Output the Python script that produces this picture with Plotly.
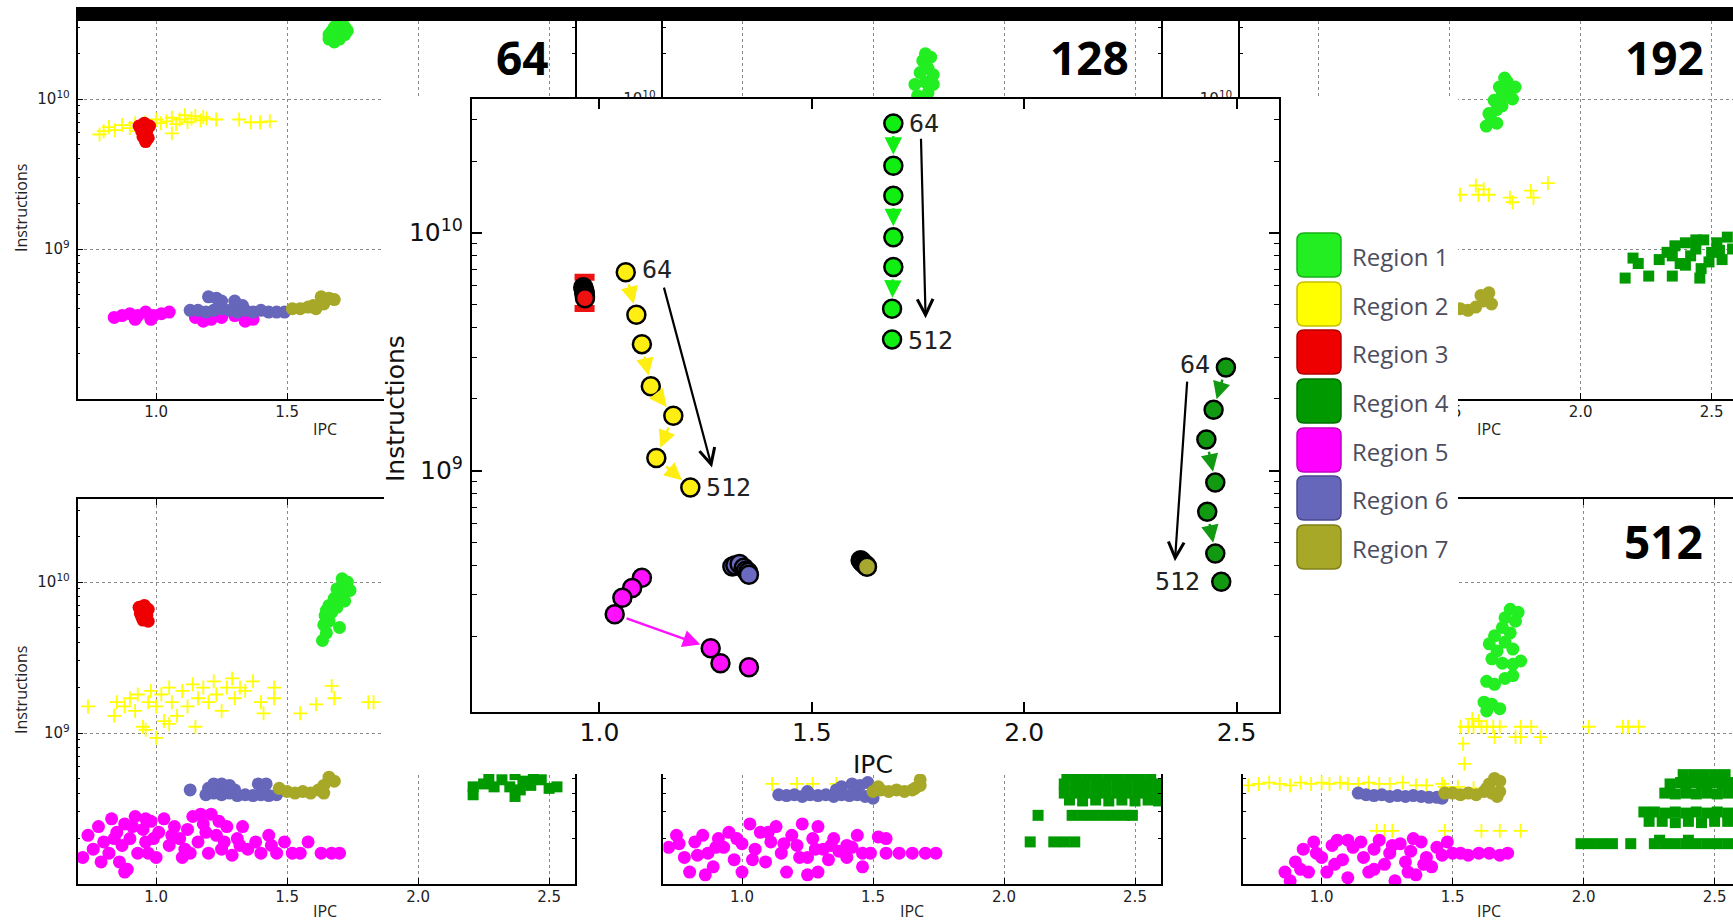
import numpy as np
import plotly.graph_objects as go

W, H = 1733, 922

# ---------------------------------------------------------------- main summary plot
# one point per window size (64 ... 512) for each region
r1_ipc = [1.692, 1.692, 1.692, 1.692, 1.692, 1.689, 1.689]
r1_ins = [2.88e10, 1.91e10, 1.43e10, 9.57e9, 7.18e9, 4.79e9, 3.56e9]
r2_ipc = [1.062, 1.087, 1.100, 1.121, 1.174, 1.134, 1.214]
r2_ins = [6.82e9, 4.52e9, 3.40e9, 2.26e9, 1.70e9, 1.13e9, 8.49e8]
r3_ipc = [0.962, 0.963, 0.964, 0.965, 0.965, 0.966, 0.966]
r3_ins = [5.9e9, 5.8e9, 5.7e9, 5.6e9, 5.5e9, 5.4e9, 5.3e9]
r3_bar_ipc = [0.965]
r3_bar_ins = [5.6e9]
r3_bar_up = [0.9e9]
r3_bar_down = [0.8e9]
r4_ipc = [2.475, 2.446, 2.429, 2.450, 2.431, 2.450, 2.464]
r4_ins = [2.71e9, 1.80e9, 1.35e9, 8.91e8, 6.71e8, 4.48e8, 3.41e8]
r5_ipc = [1.100, 1.077, 1.054, 1.036, 1.262, 1.285, 1.352]
r5_ins = [3.54e8, 3.21e8, 2.92e8, 2.49e8, 1.79e8, 1.55e8, 1.49e8]
r6_ipc = [1.313, 1.320, 1.330, 1.340, 1.345, 1.350, 1.352]
r6_ins = [3.95e8, 4.00e8, 4.05e8, 3.90e8, 3.80e8, 3.75e8, 3.65e8]
r7_ipc = [1.615, 1.618, 1.620, 1.624, 1.627, 1.629, 1.630]
r7_ins = [4.20e8, 4.15e8, 4.10e8, 4.05e8, 4.00e8, 3.97e8, 3.94e8]

# overall trend arrows (64 -> 512)
trend_from_ipc = [1.757, 1.151, 2.384]
trend_from_ins = [2.52e10, 5.96e9, 2.40e9]
trend_to_ipc = [1.768, 1.265, 2.355]
trend_to_ins = [4.37e9, 1.03e9, 4.16e8]

first_label, last_label = "64", "512"
region_names = ["Region 1", "Region 2", "Region 3", "Region 4", "Region 5", "Region 6", "Region 7"]
panel_titles = ["64", "128", "192", "512"]

x_ticks = [1.0, 1.5, 2.0, 2.5]
x_tick_text = ["1.0", "1.5", "2.0", "2.5"]
y_ticks = [1e9, 1e10]
y_tick_text = ["10<sup>9</sup>", "10<sup>10</sup>"]
y_minor = [2e8, 3e8, 4e8, 5e8, 6e8, 7e8, 8e8, 9e8, 2e9, 3e9, 4e9, 5e9, 6e9, 7e9, 8e9, 9e9, 2e10, 3e10]

# ---------------------------------------------------------------- per-window scatter panels
p64 = {
    1: [(1.66, 2.51e10), (1.68, 2.40e10), (1.70, 2.51e10), (1.72, 2.69e10), (1.67, 2.82e10), (1.70, 2.95e10),
        (1.72, 3.02e10), (1.69, 3.16e10), (1.71, 3.31e10), (1.66, 2.69e10), (1.68, 3.0e10), (1.73, 2.85e10)],
    2: [(0.784, 5.8e9), (0.80, 6.1e9), (0.82, 6.5e9), (0.842, 6.2e9), (0.87, 6.7e9), (0.90, 6.4e9), (0.92, 6.9e9),
        (0.93, 6.1e9), (0.959, 7.0e9), (0.98, 6.6e9), (1.0, 7.3e9), (1.018, 6.9e9), (1.04, 7.1e9), (1.06, 7.5e9),
        (1.076, 6.8e9), (1.09, 7.3e9), (1.11, 7.8e9), (1.12, 7.0e9), (1.135, 7.4e9), (1.15, 7.7e9), (1.17, 7.2e9),
        (1.18, 7.6e9), (1.193, 7.4e9), (1.229, 7.3e9), (1.317, 7.3e9), (1.361, 7.0e9), (1.397, 7.0e9),
        (1.434, 7.1e9), (1.06, 5.9e9), (0.96, 6.4e9)],
    3: [(0.935, 6.6e9), (0.955, 6.9e9), (0.975, 6.6e9), (0.945, 6.1e9), (0.965, 6.2e9), (0.95, 5.6e9),
        (0.97, 5.5e9), (0.96, 5.2e9)],
    5: [(0.84, 3.5e8), (0.87, 3.6e8), (0.90, 3.7e8), (0.93, 3.6e8), (0.96, 3.8e8), (0.99, 3.6e8), (1.02, 3.7e8),
        (1.05, 3.8e8), (0.92, 3.4e8), (0.98, 3.4e8), (1.15, 3.5e8), (1.18, 3.3e8), (1.21, 3.4e8), (1.25, 3.5e8),
        (1.30, 3.6e8), (1.34, 3.3e8), (1.37, 3.4e8)],
    6: [(1.13, 3.9e8), (1.16, 3.9e8), (1.19, 3.8e8), (1.22, 3.9e8), (1.25, 4.0e8), (1.28, 3.9e8), (1.31, 3.8e8),
        (1.34, 3.9e8), (1.37, 3.8e8), (1.40, 3.9e8), (1.43, 3.8e8), (1.46, 3.8e8), (1.49, 3.8e8), (1.20, 4.8e8),
        (1.23, 4.7e8), (1.25, 4.5e8), (1.30, 4.5e8), (1.33, 4.2e8)],
    7: [(1.52, 4.0e8), (1.55, 4.0e8), (1.58, 4.1e8), (1.61, 4.0e8), (1.64, 4.3e8), (1.66, 4.7e8), (1.68, 4.6e8),
        (1.63, 4.8e8), (1.60, 4.2e8)],
}
p128 = {
    1: [(1.67, 1.05e10), (1.69, 1.02e10), (1.71, 1.1e10), (1.66, 1.25e10), (1.70, 1.3e10), (1.73, 1.25e10),
        (1.68, 1.5e10), (1.71, 1.6e10), (1.69, 1.8e10), (1.72, 1.9e10), (1.70, 2.0e10), (1.73, 1.45e10)],
}
p192 = {
    1: [(1.64, 6.6e9), (1.66, 7.2e9), (1.68, 6.9e9), (1.65, 8.0e9), (1.68, 8.5e9), (1.70, 9.0e9), (1.67, 9.8e9),
        (1.70, 1.05e10), (1.73, 1.1e10), (1.69, 1.2e10), (1.72, 1.3e10), (1.75, 1.2e10), (1.71, 1.38e10),
        (1.74, 1.0e10)],
    2: [(1.54, 2.3e9), (1.60, 2.65e9), (1.61, 2.3e9), (1.63, 2.5e9), (1.65, 2.3e9), (1.73, 2.2e9), (1.74, 2.05e9),
        (1.81, 2.45e9), (1.82, 2.2e9), (1.875, 2.75e9)],
    4: [(2.30, 8.5e8), (2.33, 9.5e8), (2.36, 1.05e9), (2.38, 8.0e8), (2.40, 1.1e9), (2.42, 9.0e8), (2.44, 1.0e9),
        (2.46, 7.4e8), (2.47, 1.15e9), (2.50, 9.5e8), (2.52, 1.1e9), (2.54, 8.5e8), (2.56, 1.2e9), (2.58, 1.0e9),
        (2.40, 7.8e8), (2.35, 9.0e8), (2.49, 8.2e8), (2.20, 8.7e8), (2.22, 8.0e8), (2.17, 6.4e8), (2.26, 6.6e8),
        (2.35, 6.6e8), (2.455, 6.4e8), (2.53, 9.8e8), (2.44, 1.15e9)],
    7: [(1.54, 4.0e8), (1.57, 3.9e8), (1.60, 4.1e8), (1.63, 4.5e8), (1.65, 5.1e8), (1.62, 4.9e8), (1.66, 4.3e8)],
}
p_bl = {
    1: [(1.635, 4.1e9), (1.65, 4.6e9), (1.64, 5.2e9), (1.66, 5.5e9), (1.645, 6.0e9), (1.67, 6.3e9), (1.66, 7.0e9),
        (1.69, 6.8e9), (1.68, 7.8e9), (1.70, 8.2e9), (1.69, 9.0e9), (1.72, 9.3e9), (1.71, 1.05e10), (1.73, 1.0e10),
        (1.70, 5.0e9), (1.72, 7.5e9), (1.65, 6.5e9), (1.74, 8.8e9)],
    2: [(0.74, 1.5e9), (0.84, 1.3e9), (0.85, 1.6e9), (0.88, 1.5e9), (0.90, 1.7e9), (0.92, 1.4e9), (0.93, 1.8e9),
        (0.95, 1.1e9), (0.97, 1.6e9), (0.98, 1.9e9), (1.0, 0.93e9), (1.0, 1.5e9), (1.02, 1.8e9), (1.03, 1.2e9),
        (1.05, 2.0e9), (1.06, 1.6e9), (1.08, 1.3e9), (1.10, 1.9e9), (1.12, 1.5e9), (1.14, 2.1e9), (1.15, 1.1e9),
        (1.16, 1.7e9), (1.18, 2.0e9), (1.20, 1.6e9), (1.22, 2.2e9), (1.23, 1.8e9), (1.25, 1.4e9), (1.27, 2.0e9),
        (1.29, 2.3e9), (1.30, 1.7e9), (1.32, 2.0e9), (1.34, 1.9e9), (1.37, 2.2e9), (1.40, 1.6e9), (1.41, 1.35e9),
        (1.45, 2.0e9), (1.45, 1.7e9), (1.55, 1.35e9), (1.61, 1.55e9), (1.67, 2.05e9), (1.68, 1.7e9),
        (1.81, 1.6e9), (1.83, 1.6e9), (0.96, 1.05e9), (1.05, 1.15e9)],
    3: [(0.935, 6.8e9), (0.955, 7.0e9), (0.97, 6.6e9), (0.94, 6.2e9), (0.965, 6.0e9), (0.95, 5.6e9),
        (0.97, 5.5e9), (0.945, 5.9e9)],
    4: [(2.21, 3.9e8), (2.21, 4.4e8), (2.25, 4.6e8), (2.29, 4.4e8), (2.32, 4.9e8), (2.35, 4.4e8), (2.37, 3.8e8),
        (2.39, 4.2e8), (2.40, 4.8e8), (2.43, 4.5e8), (2.47, 4.9e8), (2.50, 4.3e8), (2.53, 4.4e8), (2.27, 5.1e8),
        (2.44, 5.2e8), (2.37, 5.3e8), (2.40, 6.0e8), (2.45, 8.0e8), (2.35, 1.0e9), (2.50, 7.0e8)],
    5: [(0.72, 1.5e8), (0.74, 2.1e8), (0.76, 1.7e8), (0.78, 2.4e8), (0.80, 1.9e8), (0.82, 1.6e8), (0.83, 2.7e8),
        (0.85, 2.2e8), (0.86, 1.4e8), (0.87, 1.8e8), (0.88, 2.5e8), (0.89, 1.25e8), (0.90, 2.0e8), (0.92, 2.8e8),
        (0.93, 1.6e8), (0.95, 2.3e8), (0.96, 1.9e8), (0.98, 2.6e8), (1.0, 1.5e8), (1.01, 2.2e8), (1.03, 2.7e8),
        (1.05, 1.8e8), (1.07, 2.4e8), (1.09, 2.0e8), (1.10, 1.5e8), (1.12, 2.3e8), (1.14, 2.8e8), (1.16, 1.9e8),
        (1.18, 2.5e8), (1.20, 1.6e8), (1.21, 2.9e8), (1.23, 2.1e8), (1.25, 1.7e8), (1.27, 2.4e8), (1.29, 1.55e8),
        (1.31, 2.0e8), (1.33, 2.4e8), (1.35, 1.7e8), (1.38, 1.9e8), (1.40, 1.6e8), (1.43, 2.1e8), (1.46, 1.6e8),
        (1.49, 1.9e8), (1.52, 1.6e8), (1.55, 1.6e8), (1.58, 1.9e8), (1.63, 1.6e8), (1.67, 1.6e8), (1.70, 1.6e8),
        (0.97, 1.6e8), (1.13, 1.6e8), (1.17, 2.9e8), (0.79, 1.4e8), (0.84, 2.0e8), (0.91, 2.4e8), (0.99, 2.0e8),
        (1.06, 2.1e8), (1.11, 1.7e8), (1.19, 2.2e8), (1.26, 1.9e8), (1.32, 1.8e8), (1.44, 1.8e8),
        (0.88, 1.2e8), (0.96, 2.7e8), (1.24, 2.6e8)],
    6: [(1.13, 4.2e8), (1.19, 3.9e8), (1.22, 4.0e8), (1.25, 3.9e8), (1.28, 4.0e8), (1.31, 3.85e8), (1.34, 3.9e8),
        (1.37, 3.85e8), (1.40, 3.9e8), (1.43, 3.85e8), (1.46, 3.9e8), (1.22, 4.6e8), (1.25, 4.6e8), (1.28, 4.5e8),
        (1.39, 4.6e8), (1.42, 4.6e8), (1.30, 4.2e8), (1.20, 4.3e8)],
    7: [(1.47, 4.3e8), (1.50, 4.1e8), (1.53, 4.0e8), (1.56, 4.1e8), (1.59, 4.0e8), (1.62, 4.2e8), (1.64, 4.5e8),
        (1.66, 4.9e8), (1.68, 4.8e8), (1.64, 4.0e8), (1.66, 5.1e8)],
}
p_bm = {
    2: [(1.115, 4.6e8), (1.21, 4.6e8), (1.27, 4.6e8), (1.36, 4.6e8)],
    4: [(2.24, 5.2e8), (2.28, 5.3e8), (2.32, 5.3e8), (2.36, 5.3e8), (2.40, 5.3e8), (2.44, 5.3e8), (2.48, 5.3e8),
        (2.52, 5.3e8), (2.56, 5.3e8), (2.23, 4.6e8), (2.27, 4.6e8), (2.31, 4.6e8), (2.35, 4.6e8), (2.39, 4.6e8),
        (2.43, 4.6e8), (2.47, 4.6e8), (2.51, 4.6e8), (2.55, 4.6e8), (2.59, 4.6e8), (2.23, 4.0e8), (2.27, 4.0e8),
        (2.31, 4.0e8), (2.35, 4.0e8), (2.39, 4.0e8), (2.43, 4.0e8), (2.47, 4.0e8), (2.51, 4.0e8), (2.55, 4.0e8),
        (2.59, 4.0e8), (2.25, 3.6e8), (2.30, 3.55e8), (2.35, 3.6e8), (2.40, 3.55e8), (2.45, 3.6e8), (2.50, 3.55e8),
        (2.55, 3.6e8), (2.59, 3.55e8), (2.13, 2.85e8), (2.26, 2.85e8), (2.30, 2.85e8), (2.34, 2.85e8),
        (2.38, 2.85e8), (2.42, 2.85e8), (2.46, 2.85e8), (2.49, 2.85e8), (2.10, 1.9e8), (2.19, 1.9e8),
        (2.23, 1.9e8), (2.27, 1.9e8)],
    5: [(0.72, 1.75e8), (0.75, 2.1e8), (0.78, 1.5e8), (0.80, 1.2e8), (0.82, 1.9e8), (0.85, 2.1e8), (0.87, 1.6e8),
        (0.89, 1.3e8), (0.91, 2.0e8), (0.93, 1.75e8), (0.95, 2.2e8), (0.97, 1.45e8), (1.0, 1.85e8), (1.0, 1.2e8),
        (1.03, 2.5e8), (1.05, 1.7e8), (1.07, 2.2e8), (1.09, 1.4e8), (1.11, 1.9e8), (1.13, 2.4e8), (1.15, 1.6e8),
        (1.17, 1.2e8), (1.19, 2.1e8), (1.21, 1.8e8), (1.23, 2.5e8), (1.25, 1.5e8), (1.27, 2.0e8), (1.29, 2.4e8),
        (1.31, 1.7e8), (1.33, 1.45e8), (1.35, 2.0e8), (1.37, 1.65e8), (1.40, 1.5e8), (1.42, 1.75e8),
        (1.44, 2.1e8), (1.46, 1.6e8), (1.46, 1.3e8), (1.49, 1.6e8), (1.52, 2.05e8), (1.55, 1.6e8), (1.60, 1.6e8),
        (1.65, 1.6e8), (1.70, 1.6e8), (1.74, 1.6e8), (1.55, 2.0e8), (1.29, 1.2e8), (1.25, 1.15e8),
        (0.86, 1.15e8), (0.76, 1.85e8), (0.83, 1.55e8), (0.90, 1.75e8), (0.98, 2.0e8), (1.04, 1.45e8),
        (1.10, 2.2e8), (1.16, 1.85e8), (1.22, 1.5e8), (1.28, 1.7e8), (1.34, 1.8e8), (1.40, 1.8e8)],
    6: [(1.14, 3.9e8), (1.17, 3.85e8), (1.20, 3.9e8), (1.23, 3.8e8), (1.26, 3.9e8), (1.29, 3.85e8), (1.32, 3.9e8),
        (1.35, 3.8e8), (1.38, 3.9e8), (1.41, 3.85e8), (1.44, 3.9e8), (1.47, 3.8e8), (1.50, 3.7e8), (1.38, 4.4e8),
        (1.42, 4.6e8), (1.45, 4.5e8), (1.48, 4.7e8), (1.36, 4.2e8), (1.25, 4.1e8)],
    7: [(1.50, 4.1e8), (1.53, 4.2e8), (1.56, 4.1e8), (1.59, 4.2e8), (1.62, 4.1e8), (1.65, 4.2e8), (1.68, 4.5e8),
        (1.68, 4.9e8), (1.66, 4.3e8), (1.52, 4.4e8)],
}
p512 = {
    1: [(1.72, 6.6e9), (1.75, 6.3e9), (1.70, 5.8e9), (1.74, 5.5e9), (1.69, 5.0e9), (1.72, 4.6e9), (1.66, 4.4e9),
        (1.70, 4.0e9), (1.64, 3.9e9), (1.67, 3.5e9), (1.73, 3.6e9), (1.76, 3.0e9), (1.65, 3.1e9), (1.69, 2.9e9),
        (1.73, 2.85e9), (1.63, 2.2e9), (1.66, 2.1e9), (1.70, 2.3e9), (1.73, 2.4e9), (1.62, 1.6e9), (1.65, 1.55e9),
        (1.68, 1.45e9), (1.63, 1.4e9)],
    2: [(1.53, 1.1e9), (1.56, 1.1e9), (1.58, 1.1e9), (1.575, 1.24e9), (1.60, 1.2e9), (1.61, 1.1e9), (1.63, 1.1e9),
        (1.655, 1.1e9), (1.68, 1.1e9), (1.66, 9.4e8), (1.74, 9.4e8), (1.76, 1.1e9), (1.76, 9.4e8), (1.80, 1.1e9),
        (1.835, 9.4e8), (2.02, 1.1e9), (2.15, 1.1e9), (2.17, 1.1e9), (2.21, 1.1e9), (1.54, 8.5e8), (1.545, 6.25e8),
        (0.72, 4.5e8), (0.76, 4.6e8), (0.80, 4.7e8), (0.84, 4.6e8), (0.88, 4.5e8), (0.92, 4.7e8), (0.96, 4.6e8),
        (1.0, 4.7e8), (1.03, 4.6e8), (1.07, 4.7e8), (1.10, 4.6e8), (1.14, 4.6e8), (1.18, 4.7e8), (1.22, 4.6e8),
        (1.26, 4.6e8), (1.31, 4.7e8), (1.36, 4.5e8), (1.40, 4.5e8), (1.46, 4.6e8), (1.47, 4.4e8), (1.52, 4.4e8),
        (1.58, 4.3e8), (1.21, 2.25e8), (1.24, 2.25e8), (1.27, 2.25e8), (1.47, 2.25e8), (1.61, 2.25e8),
        (1.68, 2.25e8), (1.76, 2.25e8)],
    4: [(2.38, 5.3e8), (2.42, 5.3e8), (2.46, 5.3e8), (2.50, 5.3e8), (2.54, 5.3e8), (2.33, 4.6e8), (2.37, 4.7e8),
        (2.41, 4.7e8), (2.45, 4.6e8), (2.49, 4.7e8), (2.53, 4.6e8), (2.56, 4.7e8), (2.31, 4.0e8), (2.35, 3.95e8),
        (2.39, 4.0e8), (2.43, 3.95e8), (2.47, 4.0e8), (2.51, 3.95e8), (2.55, 4.0e8), (2.23, 3.0e8), (2.27, 3.0e8),
        (2.31, 2.95e8), (2.35, 3.0e8), (2.39, 2.95e8), (2.43, 3.0e8), (2.47, 2.95e8), (2.51, 3.0e8),
        (2.55, 2.95e8), (2.25, 2.6e8), (2.30, 2.6e8), (2.35, 2.55e8), (2.40, 2.6e8), (2.45, 2.55e8),
        (2.50, 2.6e8), (2.55, 2.6e8), (1.99, 1.85e8), (2.03, 1.85e8), (2.07, 1.85e8), (2.11, 1.85e8),
        (2.18, 1.85e8), (2.27, 1.85e8), (2.31, 1.85e8), (2.35, 1.85e8), (2.39, 1.85e8), (2.43, 1.85e8),
        (2.47, 1.85e8), (2.51, 1.85e8), (2.55, 1.85e8), (2.29, 1.95e8), (2.40, 1.95e8)],
    5: [(0.86, 1.2e8), (0.88, 1.05e8), (0.90, 1.4e8), (0.93, 1.7e8), (0.95, 1.2e8), (0.97, 1.9e8), (1.0, 1.5e8),
        (1.02, 1.2e8), (1.04, 1.8e8), (1.06, 1.95e8), (1.08, 1.45e8), (1.10, 1.95e8), (1.12, 1.75e8),
        (1.10, 1.1e8), (1.16, 1.5e8), (1.18, 1.2e8), (1.20, 1.7e8), (1.22, 1.95e8), (1.24, 1.35e8), (1.26, 1.6e8),
        (1.28, 1.05e8), (1.30, 1.85e8), (1.32, 1.4e8), (1.34, 1.65e8), (1.36, 1.15e8), (1.38, 1.9e8),
        (1.40, 1.5e8), (1.42, 1.3e8), (1.44, 1.75e8), (1.46, 1.55e8), (1.48, 1.9e8), (1.50, 1.6e8),
        (1.53, 1.6e8), (1.56, 1.55e8), (1.60, 1.6e8), (1.64, 1.6e8), (1.68, 1.55e8), (1.71, 1.6e8),
        (1.15, 1.9e8), (1.35, 2.0e8), (0.92, 1.25e8), (0.98, 1.6e8), (1.05, 1.35e8), (1.20, 1.25e8),
        (1.27, 1.8e8), (1.33, 1.2e8), (1.39, 1.35e8)],
    6: [(1.14, 4.0e8), (1.17, 3.9e8), (1.20, 3.85e8), (1.23, 3.9e8), (1.26, 3.8e8), (1.29, 3.85e8), (1.32, 3.8e8),
        (1.35, 3.85e8), (1.38, 3.8e8), (1.41, 3.75e8), (1.44, 3.75e8), (1.46, 3.7e8)],
    7: [(1.47, 4.0e8), (1.50, 4.0e8), (1.53, 3.9e8), (1.56, 4.0e8), (1.59, 3.9e8), (1.62, 4.1e8), (1.65, 4.0e8),
        (1.68, 4.1e8), (1.64, 4.6e8), (1.66, 5.0e8), (1.68, 4.8e8), (1.63, 4.3e8), (1.67, 3.8e8)],
}

# ---------------------------------------------------------------- styles
C = {1: "#22EE22", 2: "#FFFF00", 3: "#EE0000", 4: "#009A00", 5: "#FF00FF", 6: "#6666BB", 7: "#A8A828"}
C_MAIN = {1: "#11EE11", 2: "#FFEE11", 3: "#EE1111", 4: "#119911", 5: "#FF11FF", 6: "#6A6AC0", 7: "#A8A830"}
LEG_EDGE = {1: "#18B018", 2: "#C8C000", 3: "#B00000", 4: "#006F00", 5: "#C000C0", 6: "#4A4A90", 7: "#80801A"}


def small_marker(reg):
    if reg == 2:
        return dict(symbol="cross-thin", size=10, line=dict(color=C[2], width=1.8))
    if reg == 4:
        return dict(symbol="square", size=11, color=C[4], line=dict(width=0))
    return dict(symbol="circle", size=13, color=C[reg], line=dict(width=0))


def xk(i):
    return "xaxis" if i == 1 else f"xaxis{i}"


def yk(i):
    return "yaxis" if i == 1 else f"yaxis{i}"


def xr(i):
    return "x" if i == 1 else f"x{i}"


def yr(i):
    return "y" if i == 1 else f"y{i}"


fig = go.Figure()
TICKFONT = dict(family="DejaVu Sans", size=15, color="#222")

# (data, axis index, left px, right px, top px, bottom px, y-range(log), mirror y)
panels = [
    (p64, 1, 77.5, 575.0, 15, 399, [8.0, 10.56], True),
    (p128, 2, 663.4, 1161.0, 15, 399, [8.0, 10.56], True),
    (p192, 3, 1240.0, 1733.0, 15, 399, [8.0, 10.56], False),
    (p_bl, 4, 77.5, 575.0, 499, 884, [8.0, 10.55], True),
    (p_bm, 5, 663.4, 1161.0, 499, 884, [8.0, 10.55], True),
    (p512, 6, 1243.0, 1733.0, 499, 884, [8.0, 10.55], False),
]
PX_PER_IPC = 262.0

for data, i, x0, x1, y0, y1, yrng, ymir in panels:
    for reg in range(1, 8):
        pts = data.get(reg)
        if not pts:
            continue
        fig.add_trace(go.Scatter(
            x=[p[0] for p in pts], y=[p[1] for p in pts], mode="markers",
            xaxis=xr(i), yaxis=yr(i), marker=small_marker(reg),
            showlegend=False, hoverinfo="skip"))
    xmax = 0.7 + (x1 - x0) / PX_PER_IPC
    fig.update_layout({
        xk(i): dict(domain=[x0 / W, min(x1 / W, 1.0)], range=[0.7, xmax], anchor=yr(i),
                    tickmode="array", tickvals=x_ticks, ticktext=x_tick_text,
                    ticks="inside", ticklen=6, tickwidth=1, tickcolor="black",
                    showline=True, linecolor="black", linewidth=1.5, mirror="ticks",
                    showgrid=True, gridcolor="#8a8a8a", griddash="dot", gridwidth=1,
                    zeroline=False, tickfont=TICKFONT, ticklabelstandoff=-2, fixedrange=True),
        yk(i): dict(domain=[1 - y1 / H, 1 - y0 / H], type="log", range=yrng, anchor=xr(i),
                    tickmode="array", tickvals=y_ticks, ticktext=y_tick_text,
                    ticks="inside", ticklen=6, tickwidth=1, tickcolor="black",
                    minor=dict(tickvals=y_minor, ticks="inside", ticklen=3, tickcolor="black", showgrid=False),
                    showline=True, linecolor="black", linewidth=1.5, mirror="ticks" if ymir else False,
                    showgrid=True, gridcolor="#8a8a8a", griddash="dot", gridwidth=1,
                    zeroline=False, tickfont=TICKFONT, ticklabelstandoff=3, fixedrange=True),
    })

# ---------------------------------------------------------------- white occluding sheet (pixel axes)
OCC = (384, 97, 1458, 774)
fig.add_trace(go.Scatter(
    x=[OCC[0], OCC[2], OCC[2], OCC[0], OCC[0]], y=[OCC[1], OCC[1], OCC[3], OCC[3], OCC[1]],
    mode="lines", fill="toself", fillcolor="white", line=dict(width=0, color="white"),
    xaxis="x7", yaxis="y7", showlegend=False, hoverinfo="skip"))
fig.update_layout(
    xaxis7=dict(domain=[0, 1], range=[0, W], visible=False, anchor="y7", fixedrange=True),
    yaxis7=dict(domain=[0, 1], range=[H, 0], visible=False, anchor="x7", fixedrange=True),
)

# ---------------------------------------------------------------- main plot (axis 8)
MX0, MX1, MY0, MY1 = 472, 1279, 99, 712
main_series = [
    (1, r1_ipc, r1_ins), (2, r2_ipc, r2_ins), (4, r4_ipc, r4_ins), (5, r5_ipc, r5_ins),
    (6, r6_ipc, r6_ins), (7, r7_ipc, r7_ins),
]
fig.add_trace(go.Scatter(
    x=r3_bar_ipc, y=r3_bar_ins, mode="markers", xaxis="x8", yaxis="y8",
    marker=dict(size=1, color=C_MAIN[3]),
    error_y=dict(type="data", symmetric=False, array=r3_bar_up, arrayminus=r3_bar_down,
                 color=C_MAIN[3], thickness=7, width=10),
    showlegend=False, hoverinfo="skip"))
for reg, xs, ys in [(3, r3_ipc, r3_ins)] + main_series:
    fig.add_trace(go.Scatter(
        x=xs, y=ys, mode="markers", xaxis="x8", yaxis="y8",
        marker=dict(symbol="circle", size=18, color=C_MAIN[reg], line=dict(color="black", width=2.5)),
        showlegend=False, hoverinfo="skip"))

YR = [7.985, 10.562]
XR = [0.7, 2.6]
fig.update_layout(
    xaxis8=dict(domain=[MX0 / W, MX1 / W], range=XR, anchor="y8",
                tickmode="array", tickvals=x_ticks, ticktext=x_tick_text,
                ticks="inside", ticklen=10, tickwidth=1.5, tickcolor="black",
                showline=True, linecolor="black", linewidth=2, mirror="ticks",
                showgrid=False, zeroline=False, ticklabelstandoff=-3,
                tickfont=dict(family="DejaVu Sans", size=25, color="#111"), fixedrange=True),
    yaxis8=dict(domain=[1 - MY1 / H, 1 - MY0 / H], type="log", range=YR, anchor="x8",
                tickmode="array", tickvals=y_ticks, ticktext=y_tick_text,
                ticks="inside", ticklen=10, tickwidth=1.5, tickcolor="black",
                minor=dict(tickvals=y_minor, ticks="inside", ticklen=5, tickwidth=1.2,
                           tickcolor="black", showgrid=False),
                showline=True, linecolor="black", linewidth=2, mirror="ticks",
                showgrid=False, zeroline=False, ticklabelstandoff=2,
                tickfont=dict(family="DejaVu Sans", size=25, color="#111"), fixedrange=True),
)

annotations = []
shapes = []

# coloured step arrows along each trajectory
px_ipc = (MX1 - MX0) / (XR[1] - XR[0])
px_dec = (MY1 - MY0) / (YR[1] - YR[0])
for reg, xs, ys in main_series[:4]:
    for k in range(len(xs) - 1):
        dxp = (xs[k + 1] - xs[k]) * px_ipc
        dyp = (np.log10(ys[k + 1]) - np.log10(ys[k])) * px_dec
        if np.hypot(dxp, dyp) < 34:
            continue
        annotations.append(dict(
            x=xs[k + 1], y=float(np.log10(ys[k + 1])), ax=xs[k], ay=float(np.log10(ys[k])),
            xref="x8", yref="y8", axref="x8", ayref="y8", showarrow=True, text="",
            arrowhead=2, arrowsize=1.4, arrowwidth=2.5, arrowcolor=C_MAIN[reg],
            standoff=11, startstandoff=11))

# black trend arrows
for fx, fy, tx, ty in zip(trend_from_ipc, trend_from_ins, trend_to_ipc, trend_to_ins):
    annotations.append(dict(
        x=tx, y=float(np.log10(ty)), ax=fx, ay=float(np.log10(fy)),
        xref="x8", yref="y8", axref="x8", ayref="y8", showarrow=True, text="",
        arrowhead=5, arrowsize=1.4, arrowwidth=2.2, arrowcolor="black"))

# 64 / 512 labels
LBL = dict(family="DejaVu Sans Mono", size=25, color="#222")
for xs, ys, side, dy0, dy1 in [(r1_ipc, r1_ins, "right", 0, -1), (r2_ipc, r2_ins, "right", 3, 0),
                               (r4_ipc, r4_ins, "left", 3, 0)]:
    for idx, txt, dy in [(0, first_label, dy0), (-1, last_label, dy1)]:
        if side == "right":
            annotations.append(dict(x=xs[idx], y=float(np.log10(ys[idx])), xref="x8", yref="y8",
                                    text=txt, showarrow=False, xanchor="left", yanchor="middle",
                                    xshift=14, yshift=dy, font=LBL))
        else:
            annotations.append(dict(x=xs[idx], y=float(np.log10(ys[idx])), xref="x8", yref="y8",
                                    text=txt, showarrow=False, xanchor="right", yanchor="middle",
                                    xshift=-14 if idx == 0 else -19, yshift=dy, font=LBL))

# main axis titles
annotations.append(dict(x=873, y=764, xref="x7", yref="y7", text="IPC", showarrow=False,
                        font=dict(family="DejaVu Sans", size=25, color="#111")))
annotations.append(dict(x=395, y=409, xref="x7", yref="y7", text="Instructions", showarrow=False,
                        textangle=-90, font=dict(family="DejaVu Sans", size=25, color="#111")))

# small panel axis titles (only the visible ones)
SMALLT = dict(family="Open Sans", size=16, color="#222")
for (x, y) in [(325, 429), (1489, 429), (325, 911), (912, 911), (1489, 911)]:
    annotations.append(dict(x=x, y=y, xref="x7", yref="y7", text="IPC", showarrow=False, font=SMALLT))
for (x, y) in [(21, 208), (21, 690)]:
    annotations.append(dict(x=x, y=y, xref="x7", yref="y7", text="Instructions", showarrow=False,
                            textangle=-90, font=SMALLT))

# big window-size labels
BIG = dict(family="Open Sans", size=46, color="black")
for txt, (x, y) in zip(panel_titles, [(522, 57), (1089, 57), (1664, 57), (1663, 541)]):
    annotations.append(dict(x=x, y=y, xref="x7", yref="y7", text=f"<b>{txt}</b>", showarrow=False, font=BIG))

# legend
LEG_Y = [255, 304, 352, 401, 450, 498, 547]


def rounded(x0, y0, x1, y1, r):
    return (f"M{x0 + r},{y0} L{x1 - r},{y0} Q{x1},{y0} {x1},{y0 + r} L{x1},{y1 - r} Q{x1},{y1} {x1 - r},{y1} "
            f"L{x0 + r},{y1} Q{x0},{y1} {x0},{y1 - r} L{x0},{y0 + r} Q{x0},{y0} {x0 + r},{y0} Z")


for k, (name, yc) in enumerate(zip(region_names, LEG_Y)):
    reg = k + 1
    shapes.append(dict(type="path", path=rounded(1297, yc - 22, 1341, yc + 22, 7), xref="x7", yref="y7",
                       fillcolor=C[reg], line=dict(color=LEG_EDGE[reg], width=1.5), layer="above"))
    annotations.append(dict(x=1350, y=yc + 1, xref="x7", yref="y7", text=name, showarrow=False,
                            xanchor="left", yanchor="middle",
                            font=dict(family="Open Sans", size=24, color="#4d4d5e")))

# black bar at the top
shapes.append(dict(type="rect", x0=76, x1=W, y0=7, y1=21, xref="x7", yref="y7",
                   fillcolor="black", line=dict(width=0), layer="above"))

fig.update_layout(
    width=W, height=H, margin=dict(l=0, r=0, t=0, b=0),
    paper_bgcolor="white", plot_bgcolor="rgba(0,0,0,0)",
    showlegend=False, hovermode=False,
    annotations=annotations, shapes=shapes,
)

fig.write_html("out.html", config={"displayModeBar": False},
               post_script="document.body.style.margin='0';document.body.style.overflow='hidden';")
